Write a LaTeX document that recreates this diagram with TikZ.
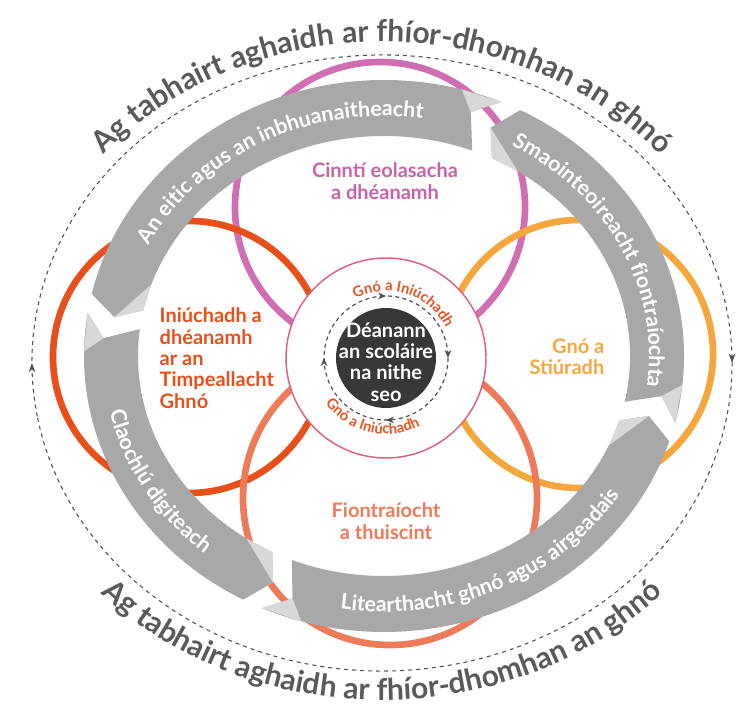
\documentclass[tikz,border=0pt]{standalone}
\usepackage{fontspec}
\setmainfont{Lato}
\usetikzlibrary{decorations.text,decorations.markings,arrows.meta}

\definecolor{pinkc}{RGB}{207,111,178}
\definecolor{pinkt}{RGB}{200,98,166}
\definecolor{redc}{RGB}{232,80,27}
\definecolor{orangec}{RGB}{245,166,60}
\definecolor{salmonc}{RGB}{237,123,90}
\definecolor{ribbonc}{RGB}{168,168,168}
\definecolor{foldc}{RGB}{216,216,216}
\definecolor{darkc}{RGB}{56,56,56}
\definecolor{outertxt}{RGB}{90,90,90}
\definecolor{dashc}{RGB}{80,80,80}
\definecolor{innerline}{RGB}{221,96,130}
\definecolor{innertxt}{RGB}{232,83,31}

\newcommand\ribbonshape[2]{%
  \fill[ribbonc] (#1:300 and 276) arc[start angle=#1, end angle=#2, x radius=300, y radius=276]
    -- ({#2+5}:281.1 and 256.4) -- ({#2+2}:246 and 220)
    arc[start angle={#2+2}, end angle={#1+1}, x radius=246, y radius=220]
    -- ({#1+4}:273 and 248) -- cycle;
  \fill[foldc] (#2:300 and 276) -- ({#2+8}:300 and 276) -- ({#2+5}:281.1 and 256.4) -- cycle;
  \fill[foldc] ({#1+4}:273 and 248) -- ({#1+1}:246 and 220) -- ({#1-6}:246 and 220) -- cycle;
}

\begin{document}
\begin{tikzpicture}[x=0.75pt,y=0.75pt,
  ring/.style={draw=#1, line width=5pt},
  lbl/.style={font=\bfseries\fontsize{15}{16}\selectfont},
  ribtext/.style={decorate, decoration={text along path, text align=center,
      text={|\color{white}\bfseries\fontsize{16}{16}\selectfont|#1}}},
  outtext/.style={decorate, decoration={text along path, text align=center,
      text={|\color{outertxt}\bfseries\fontsize{22.5}{22.5}\selectfont|#1}}},
  inntext/.style={decorate, decoration={text along path, text align=center,
      text={|\color{innertxt}\bfseries\fontsize{11}{11}\selectfont|#1}}}
]
\useasboundingbox (0,0) rectangle (737,709);
\fill[white] (0,0) rectangle (737,709);

% four coloured circles
\draw[ring=pinkc] (380,502) circle[radius=145];
\draw[ring=orangec] (579,355) circle[radius=134];
\draw[ring=redc] (189,352) circle[radius=136];
\draw[ring=salmonc] (390,211) circle[radius=147];

% outer dashed ellipse with arrows
\begin{scope}[shift={(382,346)}]
\draw[dashc, line width=0.8pt, dash pattern=on 3pt off 3pt,
  postaction={decorate, decoration={markings,
    mark=at position 0.026 with {\arrow{Stealth[length=7pt,width=5pt]}},
    mark=at position 0.526 with {\arrow{Stealth[length=7pt,width=5pt]}}}}]
  (190:350 and 308) arc[start angle=190, end angle=-170, x radius=350, y radius=308];
\path[outtext={Ag tabhairt aghaidh ar fhíor-dhomhan an ghnó}]
  (170:365 and 321) arc[start angle=170, end angle=10, x radius=365, y radius=321];
\path[outtext={Ag tabhairt aghaidh ar fhíor-dhomhan an ghnó}]
  (190:385 and 337) arc[start angle=190, end angle=350, x radius=385, y radius=337];
\end{scope}

% grey ribbons
\begin{scope}[shift={(384,353)}]
\ribbonshape{167}{67}
\ribbonshape{63}{-14}
\ribbonshape{-18}{-114}
\ribbonshape{242}{171}
\path[ribtext={An eitic agus an inbhuanaitheacht}]
  (178:265 and 240) arc[start angle=178, end angle=58, x radius=265, y radius=240];
\path[ribtext={Smaointeoireacht fiontraíochta}]
  (86:265 and 240) arc[start angle=86, end angle=-34, x radius=265, y radius=240];
\path[ribtext={Litearthacht ghnó agus airgeadais}]
  (-125:281 and 256) arc[start angle=-125, end angle=-5, x radius=281, y radius=256];
\path[ribtext={Claochlú digiteach}]
  (150:281 and 256) arc[start angle=150, end angle=270, x radius=281, y radius=256];
\end{scope}

% circle labels
\node[lbl, text=pinkt, align=center] (lpink) at (385,528) {Cinntí eolasacha\\a dhéanamh};
\node[lbl, text=redc, align=left, anchor=west] (lred) at (155,351)
  {Iniúchadh a\\dhéanamh\\ar an\\Timpeallacht\\Ghnó};
\node[lbl, text=orangec, align=right, anchor=east] (lorange) at (609,352) {Gnó a\\Stiúradh};
\node[lbl, text=salmonc, align=center] (lsalmon) at (386,188) {Fiontraíocht\\a thuiscint};

% inner circle
\begin{scope}[shift={(386,351)}]
\filldraw[fill=white, draw=innerline, line width=1.1pt] (0,0) circle[radius=100];
\fill[darkc] (0,0) circle[radius=50];
\draw[dashc, line width=0.9pt, dash pattern=on 3pt off 2.5pt,
  postaction={decorate, decoration={markings,
    mark=at position 0.0139 with {\arrow{Stealth[length=6pt,width=5pt]}},
    mark=at position 0.2639 with {\arrow{Stealth[length=6pt,width=5pt]}},
    mark=at position 0.5139 with {\arrow{Stealth[length=6pt,width=5pt]}},
    mark=at position 0.7639 with {\arrow{Stealth[length=6pt,width=5pt]}}}}]
  (95:62) arc[start angle=95, end angle=-265, radius=62];
\path[inntext={Gnó a Iniúchadh}] (160:67) arc[start angle=160, end angle=-16, radius=67];
\path[inntext={Gnó a Iniúchadh}] (169:76) arc[start angle=169, end angle=345, radius=76];
\node[font=\bfseries\fontsize{15}{16}\selectfont, text=white, align=center] (centre) at (0,-4)
  {Déanann\\an scoláire\\na nithe\\seo};
\end{scope}
\end{tikzpicture}
\end{document}
